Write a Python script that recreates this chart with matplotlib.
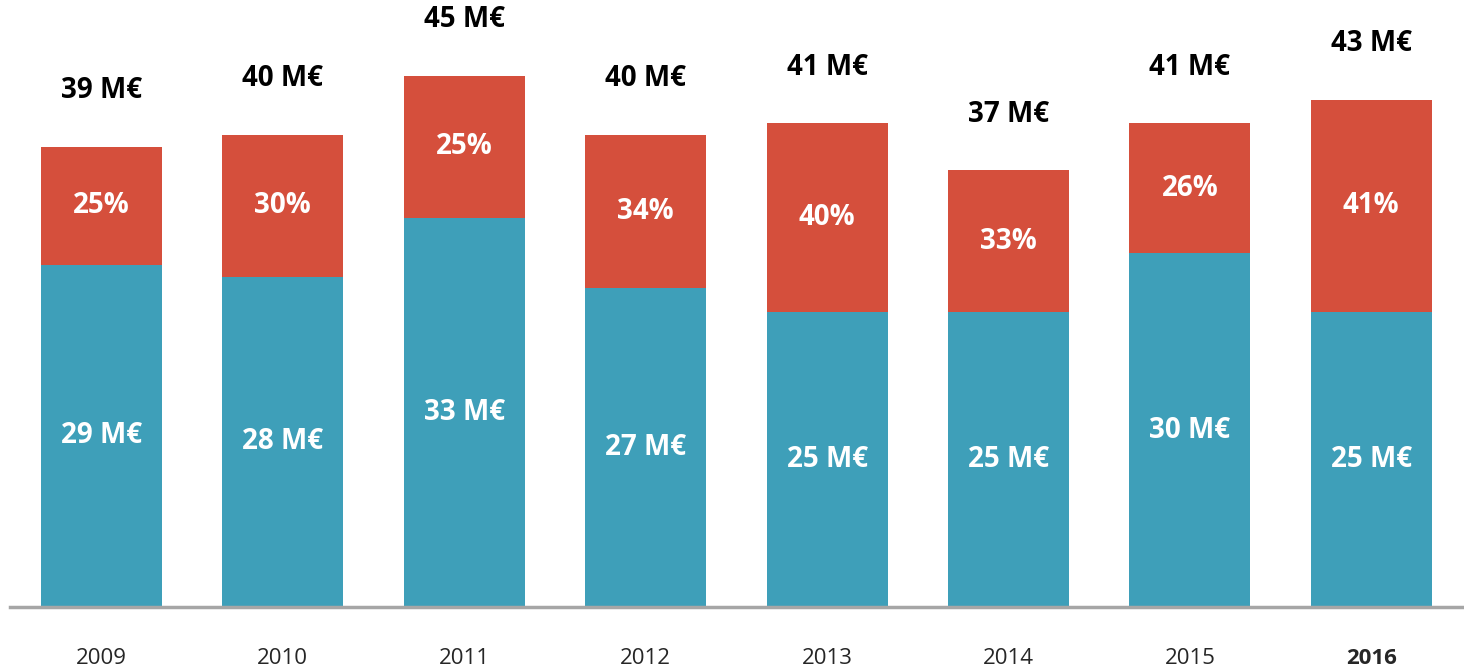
import numpy as np
import matplotlib.pyplot as plt

years = ['2009', '2010', '2011', '2012', '2013', '2014', '2015', '2016']
totals = [39, 40, 45, 40, 41, 37, 41, 43]          # M€
base_part = [29, 28, 33, 27, 25, 25, 30, 25]       # M€
top_share = [25, 30, 25, 34, 40, 33, 26, 41]       # %

top_part = [t - b for t, b in zip(totals, base_part)]

teal = '#3E9FB9'
red = '#D54F3C'
font = 'Open Sans'

fig = plt.figure(figsize=(14.64, 6.72), dpi=100)
ax = fig.add_axes([10 / 1464, 65 / 672, 1 - 10 / 1464, 1 - 65 / 672])

x = np.arange(len(years))
w = 0.667
ax.bar(x, base_part, width=w, color=teal)
ax.bar(x, top_part, width=w, bottom=base_part, color=red)

for i in range(len(years)):
    ax.text(x[i], base_part[i] / 2, f'{base_part[i]} M€', ha='center', va='center',
            color='white', fontsize=20, fontweight='bold', family=font)
    ax.text(x[i], base_part[i] + top_part[i] / 2, f'{top_share[i]}%', ha='center', va='center',
            color='white', fontsize=20, fontweight='bold', family=font)
    ax.text(x[i], totals[i] + 4.75, f'{totals[i]} M€', ha='center', va='center',
            color='black', fontsize=20, fontweight='bold', family=font)
    ax.text(x[i], -4.4, years[i], ha='center', va='center', color='#262626',
            fontsize=16, family=font,
            fontweight='bold' if i == len(years) - 1 else 'normal')

ax.set_xlim(-0.504, 7.511)
ax.set_ylim(0, 607 / 11.8)
ax.axhline(0, color='#A6A6A6', linewidth=2.5, clip_on=False)
for s in ax.spines.values():
    s.set_visible(False)
ax.set_xticks([])
ax.set_yticks([])

fig.savefig('out.png', dpi=100)
